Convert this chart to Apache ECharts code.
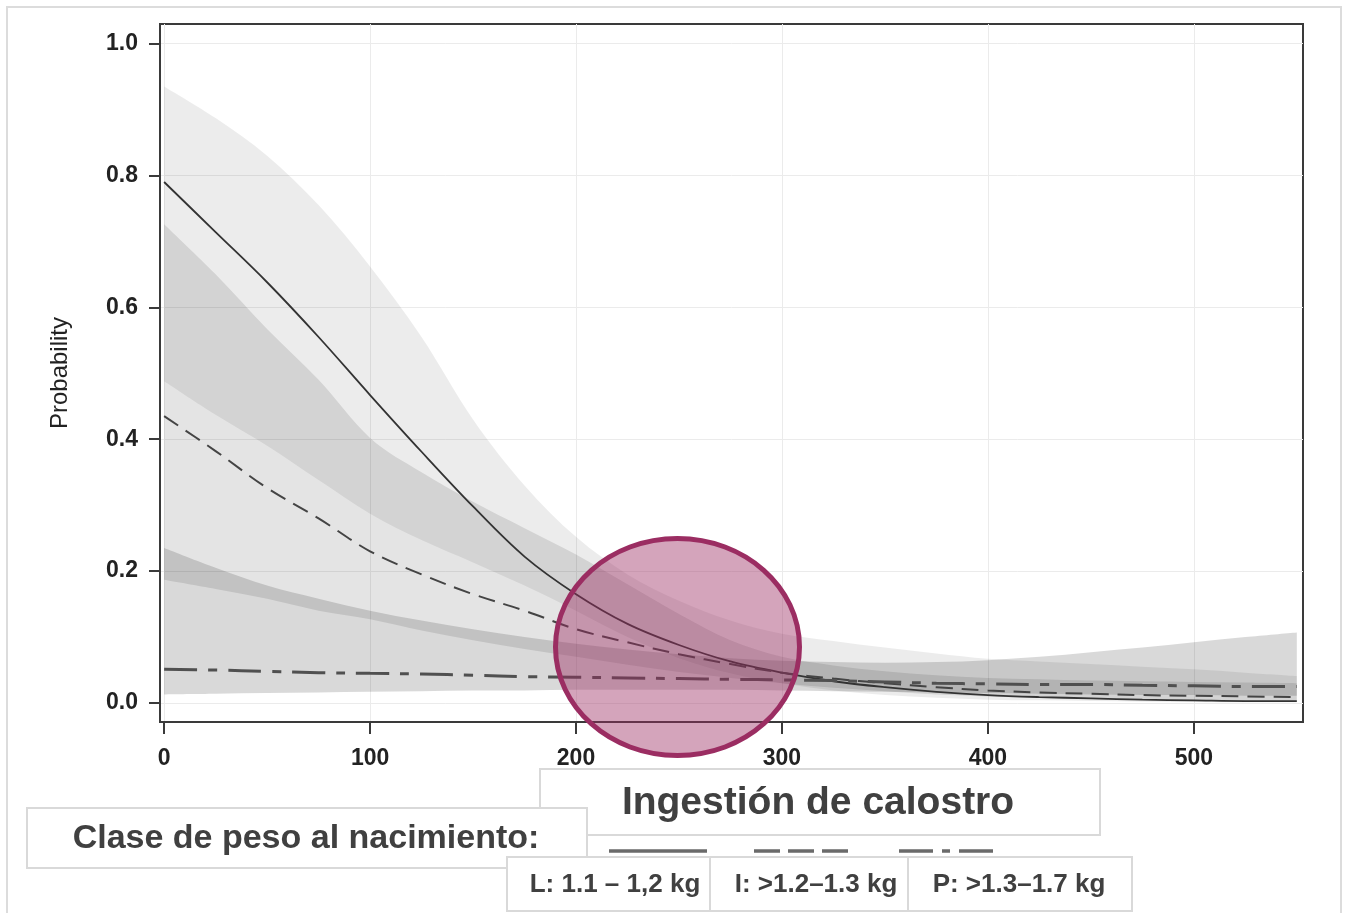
<!DOCTYPE html>
<html>
<head>
<meta charset="utf-8">
<script src="https://cdn.jsdelivr.net/npm/echarts@6/dist/echarts.min.js"></script>
<style>html,body{margin:0;padding:0;background:#fff}#c{width:1353px;height:913px}</style>
</head>
<body>
<div id="c"></div>
<script>
// Colostrum intake (x) grid
const xs = [0,25,50,75,100,125,150,175,200,225,250,275,300,325,350,375,400,425,450,475,500,525,550];
// Predicted probability per birth-weight class
const lineL = [0.79,0.714,0.638,0.555,0.467,0.381,0.298,0.222,0.165,0.12,0.088,0.063,0.046,0.033,0.024,0.017,0.012,0.009,0.007,0.005,0.004,0.003,0.003];
const lineI = [0.435,0.382,0.326,0.28,0.23,0.195,0.165,0.14,0.112,0.092,0.074,0.059,0.046,0.037,0.03,0.024,0.019,0.016,0.014,0.012,0.011,0.01,0.009];
const lineP = [0.051,0.05,0.048,0.046,0.045,0.044,0.042,0.04,0.039,0.038,0.037,0.036,0.035,0.034,0.032,0.03,0.029,0.028,0.028,0.027,0.026,0.025,0.025];
// Confidence limits
const upL  = [0.935,0.887,0.83,0.755,0.662,0.555,0.43,0.33,0.252,0.195,0.155,0.125,0.105,0.094,0.084,0.075,0.067,0.063,0.059,0.055,0.051,0.046,0.041];
const lowL = [0.488,0.437,0.39,0.338,0.287,0.247,0.213,0.178,0.14,0.1,0.068,0.045,0.03,0.019,0.012,0.008,0.005,0.004,0.003,0.002,0.0015,0.001,0.001];
const upI  = [0.726,0.65,0.567,0.49,0.402,0.35,0.305,0.265,0.225,0.18,0.135,0.095,0.07,0.057,0.048,0.042,0.038,0.036,0.034,0.033,0.032,0.031,0.03];
const lowI = [0.187,0.173,0.158,0.14,0.127,0.11,0.095,0.082,0.07,0.058,0.047,0.038,0.03,0.023,0.018,0.013,0.01,0.008,0.006,0.005,0.004,0.003,0.002];
const upP  = [0.235,0.205,0.178,0.158,0.14,0.125,0.112,0.1,0.09,0.081,0.074,0.068,0.064,0.062,0.061,0.062,0.065,0.07,0.077,0.084,0.092,0.1,0.107];
const lowP = [0.013,0.014,0.015,0.016,0.017,0.018,0.019,0.019,0.02,0.02,0.02,0.02,0.019,0.018,0.017,0.016,0.015,0.014,0.013,0.012,0.012,0.011,0.011];
// Tick values
const xTicks = [0,100,200,300,400,500];
const yTicks = [0,0.2,0.4,0.6,0.8,1.0];
// Texts
const xTitle = 'Ingestión de calostro';
const yTitle = 'Probability';
const legendTitle = 'Clase de peso al nacimiento:';
const classNames = ['L: 1.1 – 1,2 kg','I: >1.2–1.3 kg','P: >1.3–1.7 kg'];

const pairs = a => xs.map((x,i)=>[x,a[i]]);

// Smooth closed band path: Catmull-Rom through upper limit, straight edge, back through lower limit
function crSegs(pts){
  let d = '';
  const t = 1/6;
  for (let i=0;i<pts.length-1;i++){
    const p0 = pts[Math.max(i-1,0)], p1 = pts[i], p2 = pts[i+1], p3 = pts[Math.min(i+2,pts.length-1)];
    const c1 = [p1[0]+(p2[0]-p0[0])*t, p1[1]+(p2[1]-p0[1])*t];
    const c2 = [p2[0]-(p3[0]-p1[0])*t, p2[1]-(p3[1]-p1[1])*t];
    d += ' C'+c1[0]+' '+c1[1]+' '+c2[0]+' '+c2[1]+' '+p2[0]+' '+p2[1];
  }
  return d;
}
function buildPath(top, bot){
  return 'M'+top[0][0]+' '+top[0][1]+crSegs(top)+' L'+bot[0][0]+' '+bot[0][1]+crSegs(bot)+' Z';
}
function band(id, up, low, color){
  return {
    type:'custom', name:id+'_band', silent:true, z:1,
    data: xs.map((x,i)=>[x, low[i], up[i]]),
    encode:{x:0, y:[1,2]},
    renderItem:function(params, api){
      if (params.dataIndex !== 0) return null;
      const top = xs.map((x,i)=>api.coord([x, up[i]]));
      const bot = xs.map((x,i)=>api.coord([x, low[i]])).reverse();
      return {type:'path', shape:{pathData: buildPath(top, bot)}, style:{fill:color, stroke:null}};
    }
  };
}

const chart = echarts.init(document.getElementById('c'), null, {renderer:'canvas'});
const tickFont = {fontFamily:'Liberation Sans', fontWeight:'bold', fontSize:23, color:'#222'};
chart.setOption({
  animation:false,
  backgroundColor:'#fff',
  grid:{left:160, right:50, top:24, bottom:191, show:true, borderColor:'#3a3a3a', borderWidth:2, backgroundColor:'transparent'},
  xAxis:{type:'value', min:-2, max:553,
    axisLine:{show:true, onZero:false, lineStyle:{color:'#3a3a3a', width:2}},
    axisTick:{show:true, length:12, customValues:xTicks, lineStyle:{color:'#3a3a3a', width:2}},
    axisLabel:Object.assign({customValues:xTicks, margin:25}, tickFont),
    splitLine:{show:true, lineStyle:{color:'#ebebeb', width:1}}},
  yAxis:{type:'value', min:-0.0288, max:1.0296,
    name:yTitle, nameLocation:'middle', nameRotate:90, nameGap:88,
    nameTextStyle:{fontFamily:'Liberation Sans', fontSize:24, color:'#222'},
    axisLine:{show:true, onZero:false, lineStyle:{color:'#3a3a3a', width:2}},
    axisTick:{show:true, length:11, customValues:yTicks, lineStyle:{color:'#3a3a3a', width:2}},
    axisLabel:Object.assign({customValues:yTicks, margin:22, formatter:v=>v.toFixed(1)}, tickFont),
    splitLine:{show:true, lineStyle:{color:'#ebebeb', width:1}}},
  series:[
    band('L', upL, lowL, 'rgba(0,0,0,0.075)'),
    band('I', upI, lowI, 'rgba(0,0,0,0.106)'),
    band('P', upP, lowP, 'rgba(0,0,0,0.15)'),
    {type:'line', name:'L', data:pairs(lineL), symbol:'none', smooth:0.35, z:5,
     lineStyle:{color:'#333', width:1.8, type:'solid'}},
    {type:'line', name:'I', data:pairs(lineI), symbol:'none', smooth:0.35, z:5,
     lineStyle:{color:'#444', width:2, type:[17,9]}},
    {type:'line', name:'P', data:pairs(lineP), symbol:'none', smooth:0.35, z:5,
     lineStyle:{color:'#505050', width:3, type:[33,11,9,11]}}
  ],
  graphic:[
    {type:'rect', z:0, silent:true, shape:{x:7,y:7,width:1334,height:930}, style:{fill:'none', stroke:'#dcdcdc', lineWidth:2}},
    {type:'ellipse', z:50, silent:true, shape:{cx:677.5, cy:647, rx:122, ry:108.5},
     style:{fill:'rgba(155,45,98,0.43)', stroke:'#9b2d62', lineWidth:5}},
    {type:'rect', z:60, shape:{x:540,y:769,width:560,height:66}, style:{fill:'#fff', stroke:'#d9d9d9', lineWidth:2}},
    {type:'text', z:61, style:{text:xTitle, x:818, y:803, textAlign:'center', textVerticalAlign:'middle',
      font:'bold 39px "Liberation Sans"', fill:'#404040'}},
    {type:'rect', z:62, shape:{x:27,y:808,width:560,height:60}, style:{fill:'#fff', stroke:'#d9d9d9', lineWidth:2}},
    {type:'text', z:63, style:{text:legendTitle, x:306, y:839, textAlign:'center', textVerticalAlign:'middle',
      font:'bold 34px "Liberation Sans"', fill:'#404040'}},
    {type:'line', z:64, shape:{x1:609,y1:851,x2:707,y2:851}, style:{stroke:'#6a6a6a', lineWidth:3.5}},
    {type:'line', z:64, shape:{x1:754,y1:851,x2:848,y2:851}, style:{stroke:'#6a6a6a', lineWidth:3.5, lineDash:[26,8]}},
    {type:'line', z:64, shape:{x1:899,y1:851,x2:998,y2:851}, style:{stroke:'#6a6a6a', lineWidth:3.5, lineDash:[34,9,8,9]}},
    {type:'rect', z:65, shape:{x:507,y:857,width:203,height:54}, style:{fill:'#fff', stroke:'#d9d9d9', lineWidth:2}},
    {type:'rect', z:65, shape:{x:710,y:857,width:198,height:54}, style:{fill:'#fff', stroke:'#d9d9d9', lineWidth:2}},
    {type:'rect', z:65, shape:{x:908,y:857,width:224,height:54}, style:{fill:'#fff', stroke:'#d9d9d9', lineWidth:2}},
    {type:'text', z:66, style:{text:classNames[0], x:615, y:885, textAlign:'center', textVerticalAlign:'middle',
      font:'bold 26px "Liberation Sans"', fill:'#404040'}},
    {type:'text', z:66, style:{text:classNames[1], x:816, y:885, textAlign:'center', textVerticalAlign:'middle',
      font:'bold 26px "Liberation Sans"', fill:'#404040'}},
    {type:'text', z:66, style:{text:classNames[2], x:1019, y:885, textAlign:'center', textVerticalAlign:'middle',
      font:'bold 26px "Liberation Sans"', fill:'#404040'}}
  ]
});
</script>
</body>
</html>
